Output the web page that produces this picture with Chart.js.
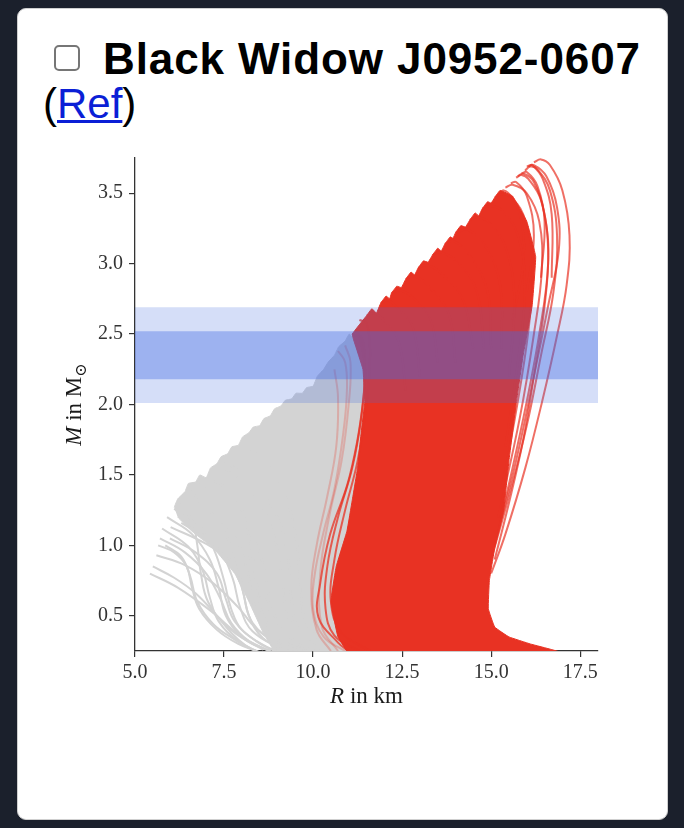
<!DOCTYPE html>
<html>
<head>
<meta charset="utf-8">
<script src="https://cdn.jsdelivr.net/npm/chart.js@4"></script>
<style>
  html, body { margin: 0; padding: 0; width: 684px; height: 828px; overflow: hidden; background: #1b202c; }
  .card { position: absolute; left: 17px; top: 8px; width: 651px; height: 812px; box-sizing: border-box;
          background: #fff; border: 1px solid #cfcfcf; border-radius: 9px; }
  .box { position: absolute; left: 54px; top: 45px; width: 22px; height: 22px; border: 2px solid #767676;
         border-radius: 5px; background: #fff; }
  .title { position: absolute; left: 103px; top: 37px; margin: 0; white-space: nowrap;
           font-family: "Liberation Sans", Arial, sans-serif; font-weight: bold; font-size: 44px;
           line-height: 44px; letter-spacing: 0.9px; color: #000; }
  .ref { position: absolute; left: 43px; top: 83px; white-space: nowrap;
         font-family: "Liberation Sans", Arial, sans-serif; font-size: 42px; line-height: 42px; color: #000; }
  .ref a { color: #0b1fd6; text-decoration: underline; text-decoration-thickness: 3px; }
  #wrap { position: absolute; left: 40px; top: 140px; width: 600px; height: 580px; }
</style>
</head>
<body>
<div class="card"></div>
<div class="box"></div>
<div class="title">Black Widow J0952-0607</div>
<div class="ref">(<a href="#">Ref</a>)</div>
<div id="wrap"><canvas id="mr" width="600" height="580"></canvas></div>
<script>
// axis ticks
const xTicks = [5.0, 7.5, 10.0, 12.5, 15.0, 17.5];
const yTicks = [0.5, 1.0, 1.5, 2.0, 2.5, 3.0, 3.5];

// J0952-0607 mass bands (M in Msun)
const bandOuter = [2.01, 2.69];
const bandInner = [2.18, 2.52];

// dense bundle of excluded (gray) curves, outline as [R, M]; the saw teeth are the curve ends
const grayRegion = [
  [6.1,1.27],[6.2,1.33],[6.4,1.38],[6.5,1.44],[6.7,1.45],[6.82,1.5],[7.0,1.48],[7.12,1.55],
  [7.3,1.58],[7.42,1.63],[7.6,1.65],[7.72,1.7],[7.9,1.71],[8.02,1.77],[8.2,1.8],[8.32,1.84],
  [8.5,1.85],[8.62,1.9],[8.8,1.92],[8.92,1.97],[9.1,1.99],[9.22,2.03],[9.4,2.04],[9.52,2.08],
  [9.7,2.08],[9.82,2.12],[10.0,2.13],[10.12,2.2],[10.3,2.25],[10.42,2.3],[10.6,2.35],[10.72,2.41],
  [10.9,2.45],[11.02,2.5],[11.6,2.3],[11.6,1.4],[11.3,0.6],[11.2,0.15],[9.1,0.15],[8.9,0.25],
  [8.6,0.38],[8.2,0.6],[7.8,0.8],[7.2,0.98],[6.6,1.1],[6.2,1.2]
];

// single gray curves at the edge of the bundle
const grayCurves = [
  [[5.42,0.80],[6.2,0.70],[7.1,0.54],[7.95,0.36],[8.6,0.27],[9.0,0.23]],
  [[5.76,1.12],[6.5,0.99],[6.9,0.82],[7.1,0.63],[7.35,0.46],[7.9,0.32],[8.5,0.24]],
  [[5.98,1.05],[6.7,0.95],[7.3,0.80],[7.55,0.62],[7.8,0.46],[8.4,0.32],[9.0,0.24]],
  [[6.1,1.26],[6.8,1.12],[7.4,0.96],[7.75,0.76],[7.95,0.56],[8.3,0.39],[9.2,0.25]],
  [[6.45,1.41],[7.1,1.26],[7.8,1.06],[8.15,0.82],[8.35,0.57],[8.7,0.39],[9.5,0.25]],
  [[5.6,0.93],[6.4,0.86],[7.2,0.73],[7.9,0.56],[8.4,0.41],[9.0,0.31],[9.7,0.25]],
  [[6.0,1.13],[7.0,1.01],[7.9,0.86],[8.55,0.66],[8.95,0.46],[9.6,0.30],[10.1,0.25]],
  [[6.75,1.46],[7.5,1.31],[8.2,1.11],[8.6,0.86],[8.8,0.61],[9.1,0.41],[9.8,0.26]],
  [[7.3,1.58],[8.1,1.43],[8.7,1.21],[9.0,0.96],[9.15,0.71],[9.35,0.46],[10.0,0.27]],
  [[6.25,1.30],[6.6,1.18],[6.75,1.0],[6.85,0.8],[7.05,0.6],[7.6,0.42],[8.3,0.30],[8.8,0.25]],
  [[5.85,1.0],[6.3,0.92],[6.55,0.78],[6.75,0.6],[7.2,0.44],[7.8,0.33],[8.2,0.27]],
  [[6.6,1.35],[7.2,1.22],[7.6,1.05],[7.9,0.85],[8.05,0.65],[8.3,0.45],[9.0,0.30],[9.6,0.24]],
  [[8.0,1.73],[8.8,1.55],[9.3,1.3],[9.55,1.0],[9.65,0.7],[9.8,0.45],[10.4,0.27]],
  [[7.0,1.48],[7.6,1.40],[8.0,1.25],[8.25,1.0],[8.4,0.75],[8.6,0.5],[9.2,0.32],[9.8,0.25]],
  [[5.7,1.05],[6.4,0.95],[7.0,0.8],[7.4,0.62],[7.7,0.45],[8.2,0.32],[8.8,0.25]],
  [[5.9,1.2],[6.6,1.08],[7.1,0.9],[7.35,0.7],[7.55,0.5],[8.0,0.35],[8.6,0.26]],
  [[6.3,1.16],[7.0,1.05],[7.6,0.9],[8.0,0.7],[8.2,0.5],[8.6,0.34],[9.3,0.25]],
  [[5.5,0.85],[6.1,0.77],[6.7,0.66],[7.3,0.5],[7.7,0.38],[8.1,0.29],[8.4,0.25]],
  [[6.8,1.3],[7.5,1.15],[8.1,0.95],[8.45,0.7],[8.6,0.5],[8.9,0.36],[9.6,0.26]],
  [[6.35,1.22],[6.9,1.12],[7.25,0.95],[7.5,0.75],[7.7,0.55],[8.0,0.4],[8.7,0.28],[9.1,0.24]],
  [[7.5,1.6],[8.3,1.45],[9.0,1.2],[9.3,0.9],[9.4,0.6],[9.6,0.4],[10.2,0.26]],
  [[5.65,1.0],[6.1,0.95],[6.45,0.85],[6.6,0.7],[6.8,0.55],[7.3,0.4],[7.9,0.3],[8.4,0.25]]
];

// dense bundle of allowed (red) curves; top edge: curve end, arch top, notch
const redRegion = [
  [11.2,0.15],[10.7,0.35],[10.5,0.6],[10.65,0.85],[10.95,1.1],[11.1,1.32],[11.25,1.55],[11.35,1.8],
  [11.45,2.02],[11.4,2.25],[11.15,2.45],[11.1,2.5],
  [11.5,2.63],[11.65,2.68],[11.78,2.65],[11.9,2.72],[12.05,2.77],[12.15,2.75],
  [12.2,2.79],[12.35,2.84],[12.48,2.83],[12.6,2.89],[12.75,2.94],[12.85,2.92],
  [12.95,2.97],[13.1,3.02],[13.23,3.01],[13.35,3.06],[13.5,3.11],[13.6,3.09],
  [13.7,3.14],[13.85,3.19],[13.93,3.18],[14.0,3.22],[14.15,3.27],[14.28,3.26],
  [14.4,3.31],[14.55,3.36],[14.65,3.34],[14.75,3.39],[14.9,3.44],[15.0,3.43],
  [15.1,3.47],[15.25,3.52],
  [15.6,3.48],[16.0,3.3],[16.25,3.05],[16.15,2.7],[15.9,2.35],[15.7,2.0],
  [15.5,1.6],[15.35,1.25],[15.1,0.98],[14.95,0.75],[14.92,0.55],[15.1,0.42],[15.5,0.35],[16.1,0.30],
  [16.7,0.26],[17.2,0.22],[17.2,0.15]
];

// red curves leaving the bundle at the top and right, each ends in a hook
const redTopCurves = [
  [[15.0,0.8],[15.4,1.08],[15.96,1.55],[16.43,2.02],[16.85,2.49],[17.12,2.85],[17.2,3.2],[17.0,3.52],[16.65,3.70],[16.4,3.74],[16.2,3.72]],
  [[15.0,0.9],[15.5,1.35],[16.0,1.85],[16.4,2.35],[16.75,2.8],[16.85,3.2],[16.65,3.52],[16.3,3.67],[16.1,3.69],[15.95,3.66]],
  [[15.1,0.9],[15.5,1.3],[15.9,1.75],[16.2,2.2],[16.5,2.7],[16.6,3.1],[16.4,3.45],[16.05,3.6],[15.85,3.63],[15.7,3.61]],
  [[15.2,1.2],[15.8,1.9],[16.2,2.5],[16.42,2.95],[16.35,3.3],[16.0,3.5],[15.6,3.56],[15.4,3.54]],
  [[15.3,1.4],[15.8,2.1],[16.1,2.65],[16.15,3.05],[15.9,3.35],[15.5,3.48],[15.25,3.49],[15.1,3.47]],
  [[15.4,1.7],[15.8,2.4],[15.95,2.85],[15.75,3.2],[15.3,3.38],[14.95,3.41],[14.75,3.39]],
  [[15.5,2.2],[15.65,2.75],[15.4,3.12],[14.9,3.3],[14.6,3.33],[14.4,3.31]],
  [[15.3,2.4],[15.25,2.85],[14.85,3.12],[14.35,3.24],[14.0,3.22]],
  [[15.0,2.4],[14.9,2.8],[14.4,3.06],[13.95,3.16],[13.7,3.14]],
  [[14.8,2.4],[14.6,2.8],[14.1,3.0],[13.6,3.08],[13.35,3.06]],
  [[14.5,2.4],[14.2,2.75],[13.6,2.93],[13.2,2.99],[12.95,2.97]],
  [[14.0,2.3],[13.8,2.65],[13.2,2.85],[12.85,2.91],[12.6,2.89]],
  [[13.5,2.3],[13.3,2.6],[12.8,2.76],[12.45,2.81],[12.2,2.79]],
  [[13.0,2.2],[12.8,2.55],[12.35,2.69],[12.1,2.74],[11.9,2.72]],
  [[12.6,2.1],[12.4,2.45],[11.95,2.61],[11.7,2.65],[11.5,2.63]],
  [[15.1,1.0],[15.7,1.6],[16.2,2.2],[16.6,2.7],[16.9,3.1],[16.85,3.4],[16.55,3.62],[16.2,3.7],[16.0,3.69]],
  [[15.2,1.1],[15.9,1.9],[16.35,2.5],[16.6,3.0],[16.5,3.35],[16.2,3.58],[15.9,3.64],[15.75,3.62]],
  [[15.6,2.6],[15.9,3.0],[15.85,3.3],[15.55,3.48],[15.35,3.52],[15.25,3.5]],
  [[16.0,2.8],[16.2,3.2],[16.0,3.48],[15.7,3.58],[15.55,3.57]],
  [[16.4,2.9],[16.5,3.3],[16.3,3.55],[16.0,3.65],[15.85,3.64]],
  [[16.7,2.9],[16.7,3.35],[16.45,3.6],[16.15,3.7],[16.05,3.69]]
];

// red curves on the soft side of the bundle
const redLeftCurves = [
  [[11.0,0.25],[10.7,0.31],[10.15,0.49],[10.2,0.73],[10.48,1.08],[10.96,1.43],[11.24,1.74],[11.4,2.02],[11.46,2.25],[11.3,2.47],[11.1,2.5]],
  [[11.3,0.25],[10.6,0.36],[10.35,0.55],[10.4,0.85],[10.7,1.2],[11.1,1.55],[11.35,1.9],[11.45,2.2],[11.4,2.45],[11.2,2.52]],
  [[11.6,0.25],[10.8,0.38],[10.5,0.6],[10.6,0.9],[10.9,1.25],[11.25,1.6],[11.5,2.0],[11.6,2.35],[11.5,2.58],[11.3,2.6]]
];
const redFaintCurves = [
  [[10.9,0.25],[10.3,0.35],[10.0,0.55],[10.05,0.8],[10.3,1.1],[10.6,1.4],[10.85,1.8],[10.95,2.1],[10.9,2.3],[10.7,2.38]],
  [[10.5,0.25],[10.1,0.4],[9.95,0.7],[10.1,1.0],[10.4,1.35],[10.65,1.7],[10.7,2.05],[10.6,2.25]],
  [[10.7,0.25],[10.25,0.42],[10.2,0.8],[10.45,1.2],[10.8,1.6],[11.0,2.0],[11.05,2.3],[10.9,2.42]]
];

const RED = 'rgb(232,50,35)';
const GRAY = 'rgb(211,211,211)';
const pts = c => c.map(([x, y]) => ({x, y}));
const curve = (c, color, width) => ({
  data: pts(c), showLine: true, borderColor: color, borderWidth: width,
  pointRadius: 0, tension: 0.4, fill: false
});
const region = (c, color, tension) => ({
  data: pts(c), showLine: true, borderColor: color, borderWidth: 1,
  backgroundColor: color, pointRadius: 0, tension, fill: 'shape'
});
const band = (lim, color) => ({
  data: [{x: 5, y: lim[1]}, {x: 18, y: lim[1]}], showLine: true, borderWidth: 0,
  borderColor: 'rgba(0,0,0,0)', backgroundColor: color, pointRadius: 0, fill: {value: lim[0]}
});

// first dataset is drawn on top
const datasets = [
  band(bandInner, 'rgba(65,105,225,0.38)'),
  band(bandOuter, 'rgba(65,105,225,0.22)'),
  ...redTopCurves.map(c => curve(c, 'rgba(232,50,35,0.7)', 2)),
  ...redLeftCurves.map(c => curve(c, 'rgba(232,50,35,0.75)', 2)),
  ...redFaintCurves.map(c => curve(c, 'rgba(232,50,35,0.25)', 2)),
  region(redRegion, RED, 0.08),
  ...grayCurves.map(c => curve(c, GRAY, 2)),
  region(grayRegion, GRAY, 0.1)
];

const serif = '"Liberation Serif", "DejaVu Serif", serif';

function richText(ctx, parts, x, y) {
  let w = 0;
  parts.forEach(p => { ctx.font = p.font; w += ctx.measureText(p.text).width; });
  let cx = x - w / 2;
  parts.forEach(p => {
    ctx.font = p.font;
    ctx.fillText(p.text, cx, y + (p.dy || 0));
    cx += ctx.measureText(p.text).width;
  });
}

const axisTitles = {
  id: 'axisTitles',
  afterDraw(chart) {
    const {ctx, chartArea: a} = chart;
    ctx.save();
    ctx.fillStyle = '#1a1a1a';
    ctx.textBaseline = 'alphabetic';
    richText(ctx, [
      {font: 'italic 23px ' + serif, text: 'R'},
      {font: '23px ' + serif, text: ' in km'}
    ], (a.left + a.right) / 2, a.bottom + 52);
    ctx.translate(a.left - 54, (a.top + a.bottom) / 2);
    ctx.rotate(-Math.PI / 2);
    richText(ctx, [
      {font: 'italic 23px ' + serif, text: 'M'},
      {font: '23px ' + serif, text: ' in M'},
      {font: '16px ' + serif, text: '\u2299', dy: 5}
    ], 0, 0);
    ctx.restore();
  }
};

new Chart(document.getElementById('mr'), {
  type: 'scatter',
  data: {datasets},
  options: {
    responsive: false,
    animation: false,
    events: [],
    layout: {padding: {left: 0, right: 42, top: 15, bottom: 0}},
    plugins: {legend: {display: false}, tooltip: {enabled: false}},
    scales: {
      x: {
        type: 'linear', min: 5, max: 18,
        afterFit: s => { s.height = 69; },
        afterBuildTicks: s => { s.ticks = xTicks.map(v => ({value: v})); },
        border: {display: true, color: '#333', width: 1.3},
        grid: {display: true, drawOnChartArea: false, drawTicks: true, tickLength: 6, color: '#333', lineWidth: 1.2},
        ticks: {padding: 4, color: '#333', font: {family: serif, size: 20}, maxRotation: 0,
                callback: v => v.toFixed(1)}
      },
      y: {
        type: 'linear', min: 0.25, max: 3.75,
        afterFit: s => { s.width = 95; },
        afterBuildTicks: s => { s.ticks = yTicks.map(v => ({value: v})); },
        border: {display: true, color: '#333', width: 1.3},
        grid: {display: true, drawOnChartArea: false, drawTicks: true, tickLength: 6, color: '#333', lineWidth: 1.2},
        ticks: {padding: 6, color: '#333', font: {family: serif, size: 20},
                callback: v => v.toFixed(1)}
      }
    }
  },
  plugins: [axisTitles]
});
</script>
</body>
</html>
